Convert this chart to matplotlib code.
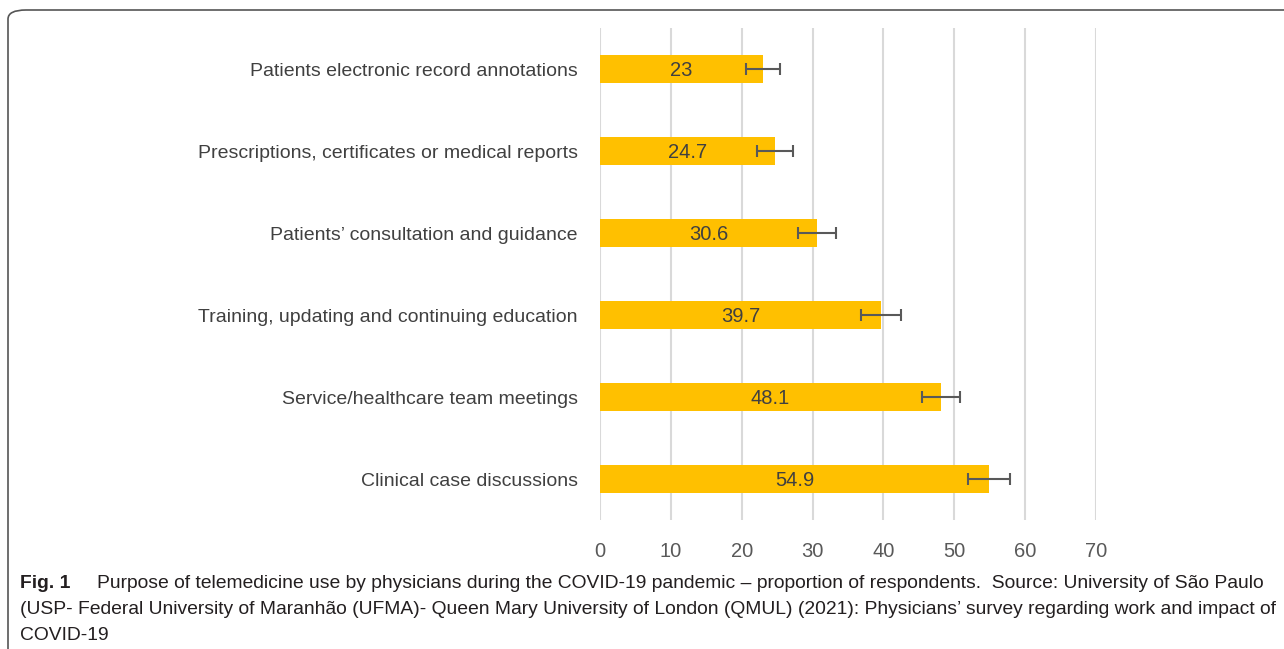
import matplotlib
matplotlib.use("Agg")
import matplotlib.pyplot as plt
from matplotlib.patches import FancyBboxPatch

categories = [
    "Patients electronic record annotations",
    "Prescriptions, certificates or medical reports",
    "Patients\u2019 consultation and guidance",
    "Training, updating and continuing education",
    "Service/healthcare team meetings",
    "Clinical case discussions",
]
values = [23, 24.7, 30.6, 39.7, 48.1, 54.9]
errors = [2.4, 2.5, 2.7, 2.8, 2.7, 2.9]
value_labels = ["23", "24.7", "30.6", "39.7", "48.1", "54.9"]
xticks = [0, 10, 20, 30, 40, 50, 60, 70]

W, H = 1284, 649
fig = plt.figure(figsize=(W / 100, H / 100), dpi=100)

ax = fig.add_axes([600 / W, (H - 520) / H, (1096 - 600) / W, 492 / H])
ypos = list(range(len(categories)))
ax.barh(ypos, values, height=0.34, color="#FFC000", zorder=2)
ax.errorbar(values, ypos, xerr=errors, fmt="none", ecolor="#595959",
            elinewidth=1.5, capsize=4, capthick=1.5, zorder=3)
for y, v, lab in zip(ypos, values, value_labels):
    ax.text(v / 2, y, lab, ha="center", va="center_baseline", fontsize=14.5,
            color="#404040", family="Liberation Sans", zorder=4)

ax.set_xlim(0, 70)
ax.set_ylim(5.5, -0.5)
ax.set_xticks(xticks)
ax.set_xticklabels([str(t) for t in xticks], fontsize=14.5, color="#595959",
                   family="Liberation Sans")
ax.set_yticks(ypos)
ax.set_yticklabels(categories, fontsize=14, color="#404040", family="Liberation Sans")
ax.tick_params(axis="both", length=0)
ax.tick_params(axis="y", pad=16)
ax.tick_params(axis="x", pad=16)
ax.grid(axis="x", color="#d9d9d9", linewidth=1.5, zorder=0)
ax.set_axisbelow(True)
for s in ax.spines.values():
    s.set_visible(False)

# frame
frame = FancyBboxPatch((8 / W, -20 / H), (W + 30) / W, (H - 10 + 20) / H,
                       boxstyle="round,pad=0,rounding_size=0.014",
                       transform=fig.transFigure, fill=False,
                       edgecolor="#555555", linewidth=1.2, clip_on=False)
fig.patches.append(frame)

cap_font = "Liberation Sans"
cap_color = "#231f20"
cap_size = 13.85
fig.text(20 / W, 1 - 583 / H, "Fig. 1", fontsize=cap_size, weight="bold",
         color=cap_color, family=cap_font, va="center", ha="left")
fig.text(97 / W, 1 - 583 / H,
         "Purpose of telemedicine use by physicians during the COVID-19 pandemic \u2013 proportion of respondents.  Source: University of S\u00e3o Paulo",
         fontsize=cap_size, color=cap_color, family=cap_font, va="center", ha="left")
fig.text(20 / W, 1 - 610 / H,
         "(USP- Federal University of Maranh\u00e3o (UFMA)- Queen Mary University of London (QMUL) (2021): Physicians\u2019 survey regarding work and impact of",
         fontsize=cap_size, color=cap_color, family=cap_font, va="center", ha="left")
fig.text(20 / W, 1 - 636 / H, "COVID-19",
         fontsize=cap_size, color=cap_color, family=cap_font, va="center", ha="left")

fig.savefig("out.png", dpi=100)
